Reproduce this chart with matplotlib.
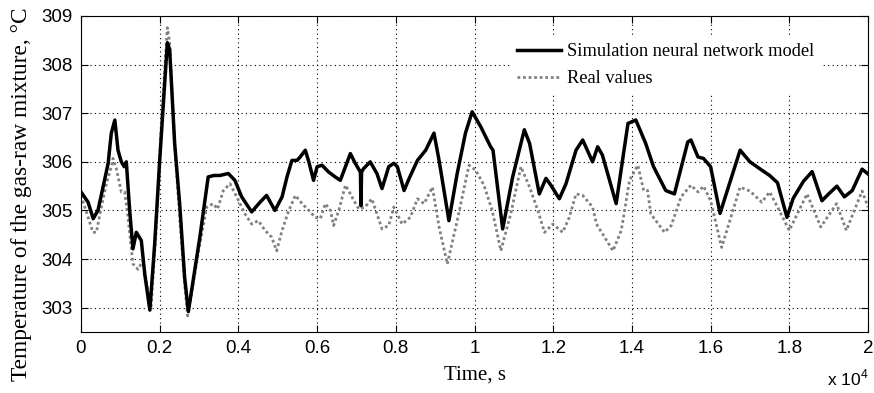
import matplotlib
matplotlib.use("Agg")
import matplotlib.pyplot as plt
from matplotlib.ticker import FixedLocator

# ---- data (time in seconds) ----
sim_time = [0, 180, 310, 430, 560, 690, 770, 860, 940, 1025, 1100, 1152, 1237, 1320,
            1406, 1533, 1620, 1750, 1872, 2000, 2110, 2194, 2253, 2380, 2507, 2634,
            2728, 3020, 3232, 3380, 3530, 3744, 3910, 4083, 4337, 4550, 4716, 4928,
            5110, 5235, 5360, 5490, 5570, 5700, 5790, 5910, 6000, 6125, 6295, 6460,
            6590, 6720, 6845, 6970, 7100, 7115, 7130, 7180, 7350, 7520, 7650, 7820,
            7950, 8040, 8210, 8340, 8550, 8760, 8970, 9100, 9350, 9560, 9770, 9940,
            10160, 10410, 10470, 10716, 10970, 11266, 11400, 11647, 11816, 11940,
            12156, 12325, 12580, 12750, 13000, 13130, 13250, 13600, 13900, 14100,
            14350, 14550, 14860, 15080, 15420, 15500, 15680, 15820, 16000, 16240,
            16750, 17000, 17300, 17500, 17700, 17940, 18100, 18360, 18580, 18830,
            19000, 19210, 19400, 19600, 19850, 20000]
sim_temp = [305.38, 305.17, 304.83, 305.0, 305.48, 305.97, 306.59, 306.86, 306.24,
            306.0, 305.9, 306.0, 305.0, 304.21, 304.55, 304.38, 303.69, 302.95,
            304.31, 306.03, 307.41, 308.45, 308.31, 306.38, 305.14, 303.62, 302.92,
            304.45, 305.69, 305.72, 305.72, 305.76, 305.62, 305.28, 304.97, 305.17,
            305.31, 305.0, 305.28, 305.69, 306.03, 306.03, 306.1, 306.24, 306.0,
            305.62, 305.9, 305.93, 305.79, 305.69, 305.62, 305.9, 306.17, 305.97,
            305.79, 305.1, 305.79, 305.86, 306.0, 305.76, 305.45, 305.9, 305.97,
            305.9, 305.41, 305.66, 306.03, 306.24, 306.59, 306.03, 304.79, 305.76,
            306.59, 307.03, 306.72, 306.31, 306.24, 304.62, 305.69, 306.66, 306.38,
            305.34, 305.66, 305.52, 305.24, 305.55, 306.24, 306.45, 306.0, 306.31,
            306.14, 305.14, 306.79, 306.86, 306.38, 305.9, 305.41, 305.34, 306.41,
            306.45, 306.1, 306.07, 305.9, 304.94, 306.24, 306.0, 305.83, 305.72,
            305.57, 304.86, 305.25, 305.6, 305.8, 305.2, 305.34, 305.5, 305.28,
            305.41, 305.85, 305.75]

real_time = [0, 180, 305, 390, 517, 644, 771, 813, 898, 1025, 1110, 1195, 1320, 1448,
             1576, 1702, 1780, 1914, 2040, 2143, 2194, 2253, 2380, 2507, 2634, 2711,
             3020, 3194, 3360, 3470, 3618, 3787, 3956, 4168, 4337, 4507, 4676, 4845,
             4972, 5110, 5280, 5450, 5620, 5790, 5950, 6080, 6210, 6340, 6420, 6550,
             6720, 6800, 6930, 7060, 7220, 7390, 7520, 7650, 7820, 7950, 8160, 8370,
             8550, 8720, 8930, 9100, 9310, 9560, 9860, 10030, 10240, 10450, 10670,
             10920, 11180, 11400, 11610, 11780, 11990, 12240, 12410, 12580, 12750,
             13000, 13100, 13520, 13730, 13940, 14150, 14300, 14400, 14480, 14830,
             15000, 15250, 15500, 15680, 15820, 16000, 16280, 16750, 17000, 17300,
             17500, 17700, 18000, 18450, 18800, 19200, 19450, 19850, 20000]
real_temp = [305.31, 304.86, 304.55, 304.55, 305.07, 305.55, 305.9, 306.07, 305.86,
             305.38, 305.38, 304.86, 303.9, 303.79, 303.97, 303.34, 303.0, 304.66,
             306.72, 308.1, 308.76, 308.45, 306.38, 304.86, 303.48, 302.83, 304.31,
             305.07, 305.14, 305.03, 305.41, 305.55, 305.28, 304.93, 304.72, 304.79,
             304.59, 304.45, 304.17, 304.59, 305.0, 305.31, 305.14, 305.0, 304.86,
             304.83, 305.14, 305.0, 304.69, 305.0, 305.52, 305.41, 305.21, 305.03,
             305.07, 305.24, 304.93, 304.62, 304.69, 305.07, 304.72, 304.86, 305.24,
             305.14, 305.48, 304.66, 303.9, 304.79, 305.93, 305.83, 305.52, 305.0,
             304.17, 304.93, 305.9, 305.48, 305.0, 304.55, 304.72, 304.55, 304.86,
             305.34, 305.31, 305.07, 304.72, 304.17, 304.59, 305.62, 305.93, 305.41,
             305.41, 304.93, 304.55, 304.69, 305.28, 305.52, 305.38, 305.5, 305.2,
             304.24, 305.48, 305.4, 305.17, 305.38, 305.07, 304.59, 305.34, 304.66,
             305.14, 304.59, 305.4, 305.07]

x_ticks = [0, 2000, 4000, 6000, 8000, 10000, 12000, 14000, 16000, 18000, 20000]
x_tick_labels = ["0", "0.2", "0.4", "0.6", "0.8", "1", "1.2", "1.4", "1.6", "1.8", "2"]
y_ticks = [303, 304, 305, 306, 307, 308, 309]

labels = ["Simulation neural network model", "Real values"]

plt.rcParams["mathtext.fontset"] = "custom"
plt.rcParams["mathtext.rm"] = "Liberation Sans"

fig = plt.figure(figsize=(8.74, 3.93), dpi=100)
ax = fig.add_axes([81 / 874, 1 - 332 / 393, 787 / 874, 316 / 393])

ax.plot(sim_time, sim_temp, color="black", lw=2.5, solid_joinstyle="round",
        label=labels[0], zorder=3)
ax.plot(real_time, real_temp, color="#808080", lw=2.0, linestyle=(0, (1, 1)),
        label=labels[1], zorder=2)

ax.set_xlim(0, 20000)
ax.set_ylim(302.5, 309)
ax.xaxis.set_major_locator(FixedLocator(x_ticks))
ax.set_xticklabels(x_tick_labels)
ax.set_yticks(y_ticks)
ax.set_yticklabels([str(v) for v in y_ticks])

ax.grid(True, color="black", linestyle=(0, (1, 3)), lw=0.8)
ax.tick_params(direction="in", length=5, width=0.8, top=True, right=True,
               labelsize=13.5, pad=6)
for lab in ax.get_xticklabels() + ax.get_yticklabels():
    lab.set_fontfamily("Liberation Sans")
for s in ax.spines.values():
    s.set_linewidth(0.8)

ax.set_xlabel("Time, s", fontfamily="Liberation Serif", fontsize=15, labelpad=6)
fig.text(22 / 874, 1 - 194 / 393, "Temperature of the gas-raw mixture, \u00b0C",
         rotation=90, ha="center", va="center",
         fontfamily="Liberation Serif", fontsize=16.8)

fig.text(868 / 874, 1 - 385 / 393, r"x 10$^{4}$", ha="right", va="baseline",
         fontfamily="Liberation Sans", fontsize=12.5)

leg = ax.legend(loc="upper left", bbox_to_anchor=(0.545, 0.938), borderaxespad=0,
                frameon=True, fancybox=False,
                prop={"family": "Liberation Serif", "size": 13.2},
                handlelength=2.4, handletextpad=0.3, labelspacing=0.55, borderpad=0.4)
leg.get_frame().set_edgecolor("none")
leg.get_frame().set_facecolor("white")
leg.get_frame().set_alpha(1)
leg.set_zorder(5)

fig.savefig("out.png", dpi=100)
